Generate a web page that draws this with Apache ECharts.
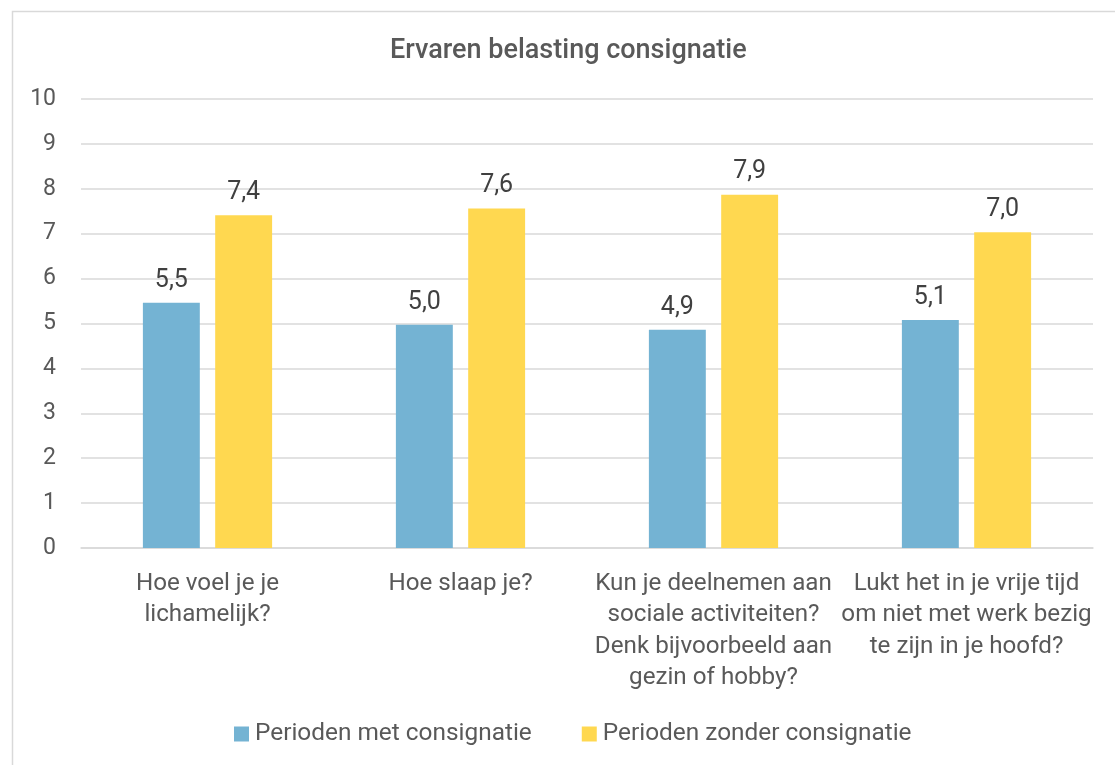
<!DOCTYPE html>
<html>
<head>
<meta charset="utf-8">
<title>Ervaren belasting consignatie</title>
<script src="https://cdn.jsdelivr.net/npm/echarts@6/dist/echarts.min.js"></script>
<style>
    html, body { margin: 0; padding: 0; background: #fff; }
    #chart { width: 1115px; height: 765px; }
</style>
</head>
<body>
<div id="chart"></div>
<script>
const categories = [
    'Hoe voel je je\nlichamelijk?',
    'Hoe slaap je?',
    'Kun je deelnemen aan\nsociale activiteiten?\nDenk bijvoorbeeld aan\ngezin of hobby?',
    'Lukt het in je vrije tijd\nom niet met werk bezig\nte zijn in je hoofd?'
];
const metValues = [5.46, 4.97, 4.86, 5.08];
const zonderValues = [7.41, 7.56, 7.87, 7.03];
const seriesNames = ['Perioden met consignatie', 'Perioden zonder consignatie'];

let myChart = echarts.init(document.getElementById('chart'));

function commaLabel(p) {
    return p.value.toFixed(1).replace('.', ',');
}

let option = {
    backgroundColor: '#fff',
    textStyle: { fontFamily: 'Roboto' },
    title: {
        text: 'Ervaren belasting consignatie',
        left: 385,
        top: 33,
        textStyle: { fontSize: 27, fontWeight: 500, color: '#595959', fontFamily: 'Roboto' }
    },
    legend: {
        bottom: 14,
        left: 229,
        itemWidth: 15,
        itemHeight: 15,
        itemGap: 50,
        icon: 'rect',
        textStyle: { fontSize: 24.4, color: '#595959', padding: [0, 0, 0, 1] },
        data: seriesNames
    },
    grid: { left: 81, right: 22, top: 99, bottom: 217, containLabel: false },
    xAxis: {
        type: 'category',
        data: categories,
        axisTick: { show: false },
        axisLine: { lineStyle: { color: '#D9D9D9', width: 1.5 } },
        axisLabel: { fontSize: 24.2, color: '#595959', lineHeight: 31.5, margin: 20, interval: 0 }
    },
    yAxis: {
        type: 'value',
        min: 0,
        max: 10,
        interval: 1,
        axisLabel: { fontSize: 23, color: '#595959', margin: 25 },
        splitLine: { lineStyle: { color: '#D9D9D9', width: 1.5 } }
    },
    graphic: [{
        type: 'rect',
        shape: { x: 12.5, y: 11.5, width: 1200, height: 900 },
        style: { fill: 'none', stroke: '#D9D9D9', lineWidth: 1.5 },
        silent: true
    }],
    series: [{
        name: seriesNames[0],
        type: 'bar',
        data: metValues,
        barWidth: '22.5%',
        barGap: '27%',
        itemStyle: { color: '#74B3D3' },
        label: { show: true, position: 'top', distance: 10, fontSize: 25, color: '#404040', formatter: commaLabel }
    }, {
        name: seriesNames[1],
        type: 'bar',
        data: zonderValues,
        barWidth: '22.5%',
        itemStyle: { color: '#FFD850' },
        label: { show: true, position: 'top', distance: 10, fontSize: 25, color: '#404040', formatter: commaLabel }
    }]
};

option && myChart.setOption(option);
</script>
</body>
</html>
